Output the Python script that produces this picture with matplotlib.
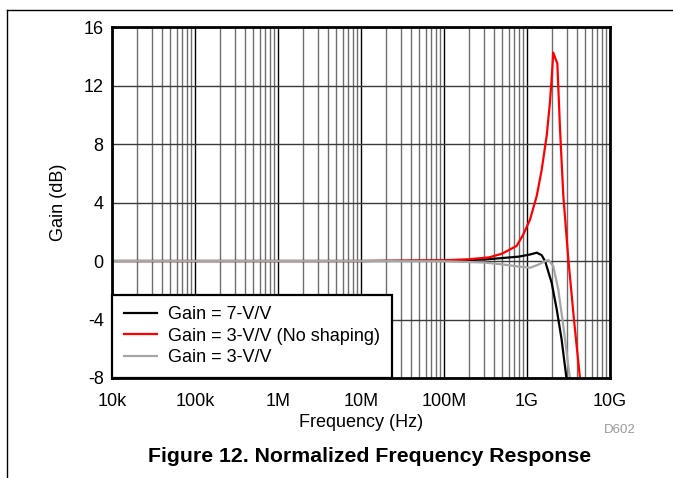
import matplotlib
matplotlib.use("Agg")
import matplotlib.pyplot as plt
from matplotlib.lines import Line2D
from matplotlib.ticker import LogLocator, NullFormatter

plt.rcParams['font.family'] = ['Liberation Sans', 'DejaVu Sans']
plt.rcParams['axes.unicode_minus'] = False

# Data
f_black = [1e4, 1e7, 1e8, 3e8, 5e8, 8e8, 1.1e9, 1.31e9, 1.5e9, 1.65e9, 1.98e9, 2.28e9, 2.61e9, 3.0e9]
g_black = [0, 0, 0.02, 0.1, 0.2, 0.3, 0.45, 0.57, 0.4, 0.0, -1.48, -3.3, -5.35, -8.1]

f_red = [1e4, 1e7, 1e8, 2e8, 3.5e8, 5e8, 7.5e8, 9e8, 1.09e9, 1.31e9, 1.5e9, 1.73e9,
         1.89e9, 2.0e9, 2.07e9, 2.32e9, 2.5e9, 2.74e9, 3.15e9, 3.68e9, 4.4e9]
g_red = [0, 0, 0.05, 0.12, 0.25, 0.5, 1.03, 1.8, 2.85, 4.45, 6.2, 8.6,
         10.85, 12.8, 14.25, 13.5, 9.0, 4.45, 0.1, -4.0, -8.3]

f_gray = [1e4, 1e7, 1e8, 3e8, 5e8, 8e8, 1.09e9, 1.37e9, 1.6e9, 1.81e9, 2.07e9, 2.38e9, 2.74e9, 3.3e9]
g_gray = [0, 0, -0.02, -0.1, -0.23, -0.38, -0.46, -0.25, -0.05, 0.07, -0.34, -1.94, -4.44, -8.1]

labels = ['Gain = 7-V/V', 'Gain = 3-V/V (No shaping)', 'Gain = 3-V/V']
x_ticks = [1e4, 1e5, 1e6, 1e7, 1e8, 1e9, 1e10]
x_ticklabels = ['10k', '100k', '1M', '10M', '100M', '1G', '10G']
y_ticks = [-8, -4, 0, 4, 8, 12, 16]

FS = 13
W, H = 673, 478
fig = plt.figure(figsize=(W / 100, H / 100), dpi=100)
ax = fig.add_axes([112 / W, 1 - 378 / H, (610 - 112) / W, (378 - 27) / H])

ax.plot(f_black, g_black, color='black', lw=1.6, label=labels[0], zorder=3)
ax.plot(f_red, g_red, color='#ff0000', lw=1.6, label=labels[1], zorder=3)
ax.plot(f_gray, g_gray, color='#a6a6a6', lw=1.6, label=labels[2], zorder=3)

ax.set_xscale('log')
ax.set_xlim(1e4, 1e10)
ax.set_ylim(-8, 16)
ax.set_xticks(x_ticks)
ax.set_xticklabels(x_ticklabels)
ax.xaxis.set_minor_locator(LogLocator(base=10, subs=range(2, 10), numticks=20))
ax.xaxis.set_minor_formatter(NullFormatter())
ax.set_yticks(y_ticks)

ax.grid(True, which='major', axis='x', color='black', lw=1.0, zorder=1)
ax.grid(True, which='minor', axis='x', color='#6e6e6e', lw=1.0, zorder=1)
ax.grid(True, which='major', axis='y', color='#3a3a3a', lw=1.0, zorder=1)

ax.tick_params(which='both', length=0, labelsize=FS, colors='black')
ax.tick_params(axis='x', pad=11)
ax.tick_params(axis='y', pad=6)
for s in ax.spines.values():
    s.set_linewidth(2.0)
    s.set_color('black')
    s.set_zorder(5)

ax.set_xlabel('Frequency (Hz)', fontsize=FS, labelpad=3)
ax.set_ylabel('Gain (dB)', fontsize=FS, labelpad=12)

leg = ax.legend(loc='lower left', borderaxespad=0, fancybox=False, edgecolor='black',
                fontsize=FS, handlelength=1.85, handletextpad=0.6, labelspacing=0.25,
                borderpad=0.65, framealpha=1)
leg.get_frame().set_linewidth(1.6)
leg.set_zorder(6)

fig.text(620 / W, 1 - 430 / H, 'D602', fontsize=9.5, color='#999999', ha='center', va='center')
fig.text(370 / W, 1 - 457 / H, 'Figure 12. Normalized Frequency Response', fontsize=15.3,
         fontweight='bold', ha='center', va='center')

# outer frame lines
fig.add_artist(Line2D([7 / W, 7 / W], [1 - 10 / H, 0], color='black', lw=1.0, transform=fig.transFigure))
fig.add_artist(Line2D([7 / W, 1], [1 - 10 / H, 1 - 10 / H], color='black', lw=1.0, transform=fig.transFigure))

fig.savefig('out.png', dpi=100)
